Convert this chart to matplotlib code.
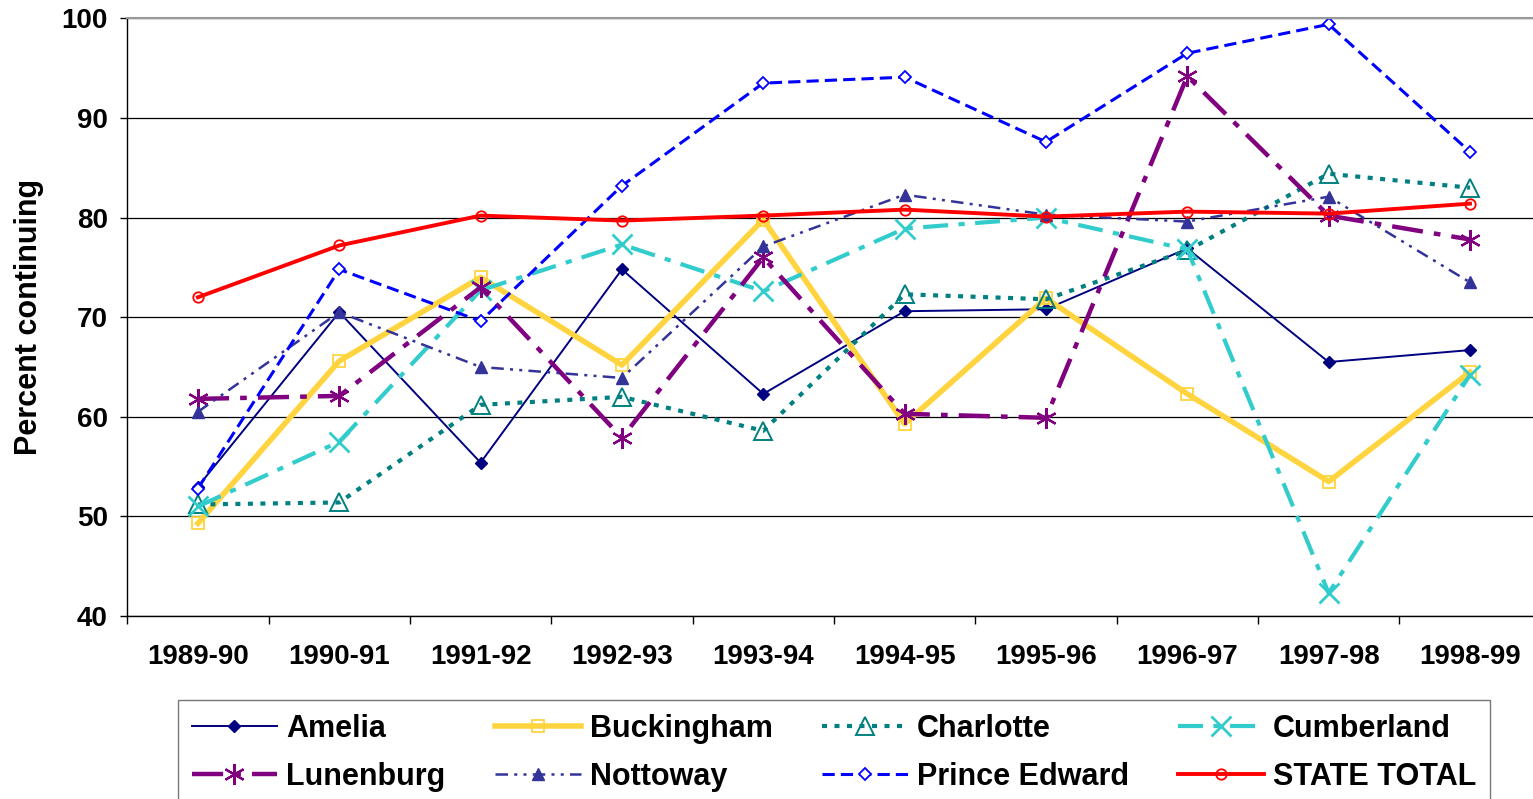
import matplotlib
matplotlib.use("Agg")
import matplotlib.pyplot as plt
import numpy as np

plt.rcParams['font.family'] = ['Liberation Sans', 'DejaVu Sans']
plt.rcParams['font.weight'] = 'bold'

years = ["1989-90", "1990-91", "1991-92", "1992-93", "1993-94",
         "1994-95", "1995-96", "1996-97", "1997-98", "1998-99"]

amelia = [53.0, 70.5, 55.4, 74.8, 62.3, 70.6, 70.8, 76.9, 65.5, 66.7]
buckingham = [49.3, 65.6, 74.0, 65.2, 79.8, 59.3, 71.9, 62.3, 53.5, 64.5]
charlotte = [51.2, 51.4, 61.2, 62.0, 58.6, 72.3, 71.8, 76.7, 84.4, 83.0]
cumberland = [51.0, 57.5, 72.7, 77.3, 72.6, 78.9, 80.0, 76.8, 42.3, 64.2]
lunenburg = [61.8, 62.1, 73.0, 57.9, 76.0, 60.3, 59.9, 94.2, 80.2, 77.8]
nottoway = [60.5, 70.5, 65.0, 63.9, 77.1, 82.3, 80.3, 79.6, 82.1, 73.5]
prince_edward = [52.8, 74.8, 69.6, 83.2, 93.5, 94.1, 87.6, 96.5, 99.4, 86.6]
state_total = [72.0, 77.2, 80.2, 79.7, 80.2, 80.8, 80.1, 80.6, 80.4, 81.4]

x = np.arange(len(years))

fig = plt.figure(figsize=(15.33, 7.99), dpi=100)
ax = fig.add_axes([0.083, 0.229, 0.922, 0.748])

# series: (label, data, color, linestyle, lw, marker, ms, facecolor, mew)
series = [
    ("Amelia", amelia, "#000080", "-", 1.4, "D", 6.5, "#000080", 1),
    ("Buckingham", buckingham, "#FFD43F", "-", 4, "s", 8, "none", 1.3),
    ("Charlotte", charlotte, "#008080", (0, (1.2, 1.8)), 3, "^", 13, "none", 1.4),
    ("Cumberland", cumberland, "#33CCCC", (0, (6, 2.5, 1.5, 2.5)), 3, "x", 14, "none", 2),
    ("Lunenburg", lunenburg, "#800080", (0, (7, 2.5, 1.5, 2.5)), 3.2, (6, 2, 0), 15, "none", 1.6),
    ("Nottoway", nottoway, "#333399", (0, (5, 2.5, 1.2, 2.5, 1.2, 2.5)), 1.8, "^", 9, "#333399", 1),
    ("Prince Edward", prince_edward, "#0000FF", (0, (4, 2)), 2.2, "D", 6.5, "white", 1.3),
    ("STATE TOTAL", state_total, "#FF0000", "-", 2.8, "o", 7.5, "none", 1.3),
]

handles = []
for label, vals, col, ls, lw, mk, ms, fc, mew in series:
    h, = ax.plot(x, vals, color=col, linestyle=ls, linewidth=lw, marker=mk,
                 markersize=ms, markerfacecolor=fc, markeredgecolor=col,
                 markeredgewidth=mew, label=label, dash_capstyle='butt')
    handles.append(h)

ax.set_xlim(-0.5, 9.5)
ax.set_ylim(40, 100)
ax.set_yticks(np.arange(40, 101, 10))
ax.set_xticks(x)
ax.set_xticklabels(years, fontsize=20, fontweight='bold')
ax.set_xticks(np.arange(-0.5, 10, 1), minor=True)
ax.tick_params(axis='x', which='major', length=0, pad=20)
ax.tick_params(axis='x', which='minor', length=6, width=1, direction='out')
ax.tick_params(axis='y', length=5, width=1, pad=9, labelsize=20)
for t in ax.get_yticklabels():
    t.set_fontweight('bold')

ax.yaxis.grid(True, color='black', linewidth=0.9)
ax.set_axisbelow(True)
ax.spines['right'].set_visible(False)
ax.spines['top'].set_color('#999999')
ax.spines['top'].set_linewidth(1.5)
ax.spines['left'].set_linewidth(1)
ax.spines['bottom'].set_linewidth(1)

ax.set_ylabel("Percent continuing", fontsize=22, fontweight='bold')
ax.yaxis.set_label_coords(-0.059, 0.5)

# legend is filled row by row in the original, so reorder for column-major fill
order = [0, 4, 1, 5, 2, 6, 3, 7]
leg = fig.legend([handles[i] for i in order], [series[i][0] for i in order],
                 loc='upper left', bbox_to_anchor=(0.116, 0.124, 0.856, 0.0),
                 mode='expand', ncol=4, fontsize=22, frameon=True,
                 fancybox=False, edgecolor='#555555', handlelength=2.8,
                 handletextpad=0.3, borderpad=0.45, labelspacing=0.6,
                 borderaxespad=0)
leg.get_frame().set_linewidth(1)
for t in leg.get_texts():
    t.set_fontweight('bold')

fig.savefig("out.png", dpi=100)
